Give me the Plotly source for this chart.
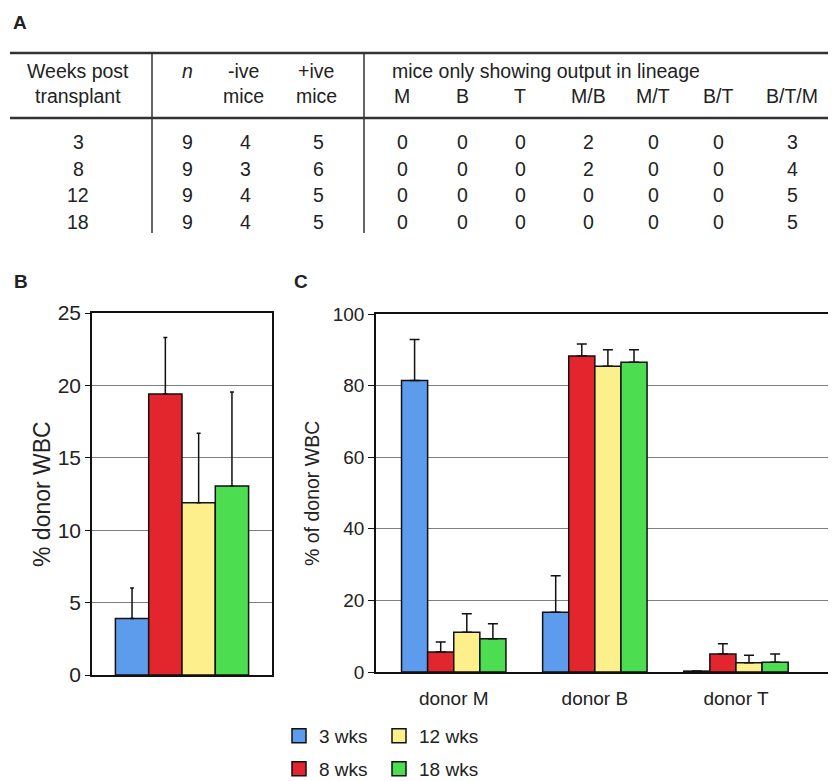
import plotly.graph_objects as go

# Reference canvas is 836x781; the html page body has an 8px margin,
# so the figure itself is drawn 8px smaller and all positions are offset.
REF_W, REF_H = 836, 781
OFF = 8
W, H = REF_W - OFF, REF_H - OFF

# ---------------- data ----------------
weeks = ["3", "8", "12", "18"]
n_mice = [9, 9, 9, 9]
neg_mice = [4, 3, 4, 4]
pos_mice = [5, 6, 5, 5]
lineage_cols = ["M", "B", "T", "M/B", "M/T", "B/T", "B/T/M"]
lin_M = [0, 0, 0, 0]
lin_B = [0, 0, 0, 0]
lin_T = [0, 0, 0, 0]
lin_MB = [2, 2, 0, 0]
lin_MT = [0, 0, 0, 0]
lin_BT = [0, 0, 0, 0]
lin_BTM = [3, 4, 5, 5]

series_names = ["3 wks", "8 wks", "12 wks", "18 wks"]
colors = ["#5D9CEC", "#E3262E", "#FDF08C", "#4CDD50"]

# panel B: total donor WBC
b_values = [3.9, 19.4, 11.9, 13.05]
b_errors = [2.1, 3.9, 4.8, 6.5]

# panel C: lineage contribution
c_categories = ["donor M", "donor B", "donor T"]
c_values = {
    "3 wks": [81.4, 16.7, 0.25],
    "8 wks": [5.6, 88.3, 5.0],
    "12 wks": [11.1, 85.4, 2.6],
    "18 wks": [9.3, 86.5, 2.7],
}
c_errors = {
    "3 wks": [11.5, 10.2, 0.0],
    "8 wks": [2.8, 3.3, 2.9],
    "12 wks": [5.2, 4.6, 2.05],
    "18 wks": [4.2, 3.5, 2.3],
}

FONT = "Liberation Sans, Arial, sans-serif"
TXT = "#222222"


def X(px):
    return (px - OFF) / W


def Y(py):
    return 1 - (py - OFF) / H


fig = go.Figure()

# ---------------- panel B bars ----------------
for name, col, v, e in zip(series_names, colors, b_values, b_errors):
    fig.add_trace(go.Bar(
        x=["all"], y=[v], name=name, xaxis="x", yaxis="y",
        marker=dict(color=col, line=dict(color="#111", width=1.5)),
        error_y=dict(type="data", array=[e], arrayminus=[0], symmetric=False,
                     color="#111", thickness=1.5, width=2),
        showlegend=False,
    ))

# ---------------- panel C bars ----------------
for name, col in zip(series_names, colors):
    fig.add_trace(go.Bar(
        x=c_categories, y=c_values[name], name=name, xaxis="x2", yaxis="y2",
        marker=dict(color=col, line=dict(color="#111", width=1.5)),
        error_y=dict(type="data", array=c_errors[name],
                     arrayminus=[0] * len(c_errors[name]), symmetric=False,
                     color="#111", thickness=1.5, width=5),
        showlegend=False,
    ))

# legend entries (one legend per entry, arranged 2x2 column-major)
legend_ids = ["legend", "legend2", "legend3", "legend4"]
legend_pos = [(279, 736), (279, 769), (379, 736), (379, 769)]
for name, col, lid in zip(series_names, colors, legend_ids):
    fig.add_trace(go.Scatter(
        x=[None], y=[None], mode="markers", name=name, legend=lid,
        xaxis="x2", yaxis="y2",
        marker=dict(symbol="square", size=14, color=col,
                    line=dict(color="#111", width=1.5)),
        showlegend=True,
    ))

legend_common = dict(
    orientation="v", xanchor="left", yanchor="middle",
    bgcolor="rgba(0,0,0,0)", borderwidth=0,
    font=dict(family=FONT, size=19, color=TXT),
    itemclick=False, itemdoubleclick=False,
)
legend_layout = {}
for lid, (lx, ly) in zip(legend_ids, legend_pos):
    legend_layout[lid] = dict(legend_common, x=X(lx), y=Y(ly))

# ---------------- table (panel A) ----------------
annotations = []
shapes = []


def txt(s, x, y, size=19.5, anchor="center", **kw):
    annotations.append(dict(
        text=s, x=X(x), y=Y(y), xref="paper", yref="paper",
        xanchor=anchor, yanchor="middle", showarrow=False,
        font=dict(family=FONT, size=size, color=TXT), **kw))


def line(x0, y0, x1, y1, w=2.5, c="#333333"):
    shapes.append(dict(type="line", xref="paper", yref="paper",
                       x0=X(x0), y0=Y(y0), x1=X(x1), y1=Y(y1),
                       line=dict(color=c, width=w)))


# panel labels
txt("<b>A</b>", 20, 22, size=19)
txt("<b>B</b>", 21, 281, size=19)
txt("<b>C</b>", 301, 281, size=19)

# table rules
line(10, 53, 836, 53)
line(10, 118, 836, 118)
line(152, 53, 152, 233, w=1.5)
line(364, 53, 364, 233, w=1.5)

h1, h2 = 71.5, 96.5
txt("Weeks post", 78, h1)
txt("transplant", 78, h2)
txt("<i>n</i>", 187, h1)
txt("-ive", 243, h1)
txt("mice", 243, h2)
txt("+ive", 316, h1)
txt("mice", 316, h2)
txt("mice only showing output in lineage", 390, h1, anchor="left")

col_x = [402, 462, 520, 588, 653, 718, 792]
for lab, cx in zip(lineage_cols, col_x):
    txt(lab, cx, h2)

row_y = [142, 168.5, 195, 221.5]
lin_data = [lin_M, lin_B, lin_T, lin_MB, lin_MT, lin_BT, lin_BTM]
for i, ry in enumerate(row_y):
    txt(weeks[i], 78, ry)
    txt(str(n_mice[i]), 187, ry)
    txt(str(neg_mice[i]), 245, ry)
    txt(str(pos_mice[i]), 318, ry)
    for cx, colvals in zip(col_x, lin_data):
        txt(str(colvals[i]), cx, ry)

# y-axis titles
txt("% donor WBC", 42, 494, size=23, textangle=-90)
txt("% of donor WBC", 312, 494, size=19.5, textangle=-90)

b_font = dict(family=FONT, size=21, color=TXT)
c_font = dict(family=FONT, size=19, color=TXT)
GRID = "#7f7f7f"

fig.update_layout(
    width=W, height=H,
    margin=dict(l=0, r=0, t=0, b=0, autoexpand=False),
    paper_bgcolor="white", plot_bgcolor="white",
    barmode="group",
    bargap=0.26,
    showlegend=True,
    annotations=annotations,
    shapes=shapes,
    xaxis=dict(domain=[X(92), X(272)], anchor="y", type="category",
               range=[-0.5, 0.5], showticklabels=False, ticks="",
               showline=True, linecolor="#111", linewidth=1.5, mirror=True,
               showgrid=False, zeroline=False, fixedrange=True),
    yaxis=dict(domain=[Y(675), Y(313)], anchor="x", range=[0, 25],
               dtick=5, tick0=0, ticks="outside", ticklen=5, tickcolor="#111",
               tickwidth=1, tickfont=b_font,
               showline=True, linecolor="#111", linewidth=1.5, mirror=True,
               showgrid=True, gridcolor=GRID, gridwidth=1,
               zeroline=False, fixedrange=True),
    xaxis2=dict(domain=[X(376), 1.0], anchor="y2", type="category",
                range=[-0.551, 2.709], ticks="", tickfont=c_font,
                ticklabelstandoff=8,
                showline=True, linecolor="#111", linewidth=1.5, mirror=True,
                showgrid=False, zeroline=False, fixedrange=True),
    yaxis2=dict(domain=[Y(672), Y(314)], anchor="x2", range=[0, 100],
                dtick=20, tick0=0, ticks="outside", ticklen=6,
                tickcolor="#111", tickwidth=1, tickfont=c_font,
                showline=True, linecolor="#111", linewidth=1.5, mirror=False,
                showgrid=True, gridcolor=GRID, gridwidth=1,
                zeroline=False, fixedrange=True),
    **legend_layout,
)

fig.write_html("out.html")
